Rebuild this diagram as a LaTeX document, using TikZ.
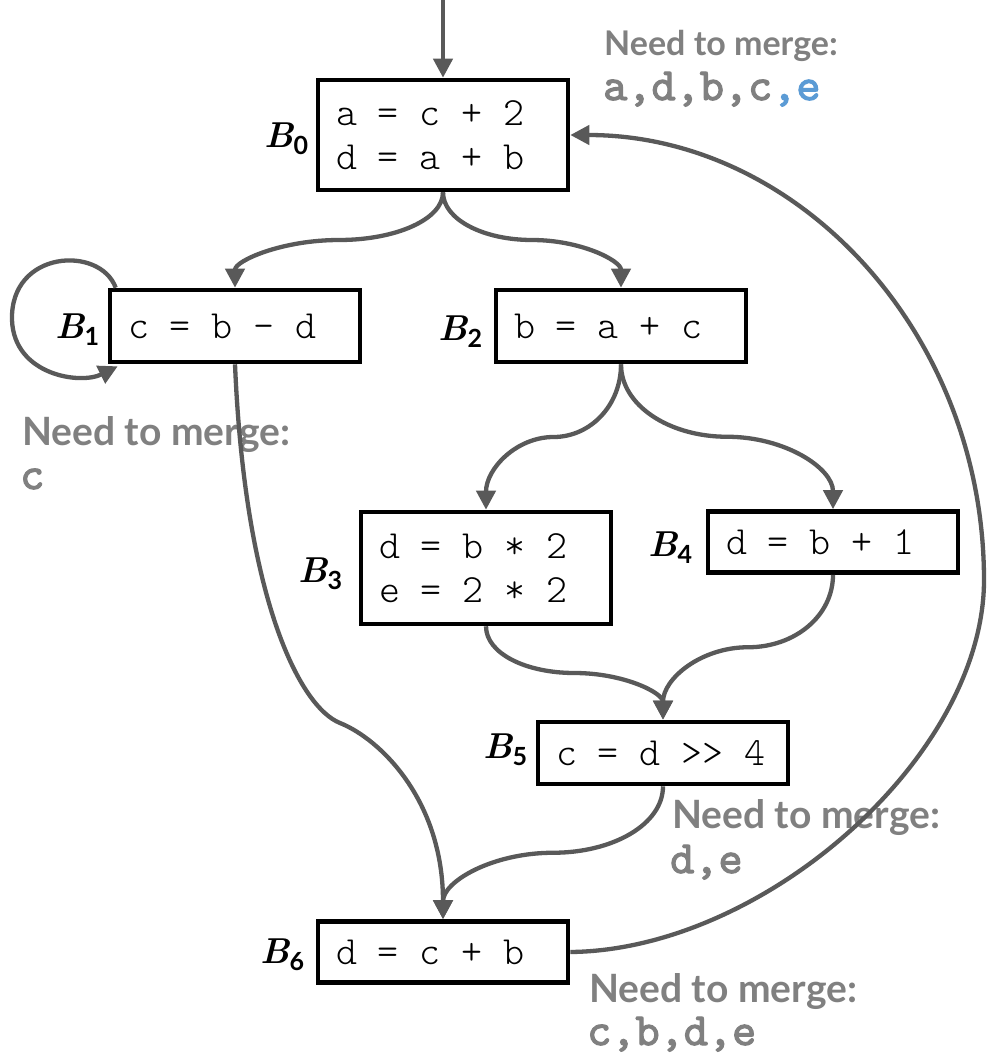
\documentclass[tikz,border=0pt]{standalone}
\usepackage{fontspec}
\setsansfont{Lato}
\newfontfamily\codefont{lmmonolt10-regular.otf}
\newfontfamily\varsfont{lmmono10-regular.otf}[FakeBold=2.5]
\usetikzlibrary{arrows.meta,calc}

\definecolor{edgegray}{HTML}{595959}
\definecolor{mergegray}{HTML}{808080}
\definecolor{mergeblue}{HTML}{5B9BD5}

\newcommand\blabel[1]{{\rmfamily\bfseries\itshape\fontsize{36}{38}\selectfont B}{\sffamily\bfseries\fontsize{25}{26}\selectfont\raisebox{-7pt}{#1}}}
\newcommand\ws{\hspace{0.525em}}

\tikzset{
  blk/.style={draw=black, line width=4.6pt, fill=white, rectangle, text width=214pt,
    align=left, inner xsep=18pt, inner ysep=0pt,
    font=\codefont\fontsize{40}{44}\selectfont},
  edge/.style={draw=edgegray, line width=4.3pt, -{Triangle[length=19pt,width=19pt]}},
  blab/.style={anchor=base west, inner sep=0pt},
  mergehead/.style={anchor=base west, inner sep=0pt, text=mergegray,
    font=\sffamily\bfseries\fontsize{39}{42}\selectfont},
  mergevars/.style={anchor=base west, inner sep=0pt, text=mergegray,
    font=\varsfont\fontsize{46}{48}\selectfont},
}

\newcommand\sconn[5]{%
  \coordinate (#3) at ($(#1)!.5!(#2)$);
  \draw[edge] (#1) .. controls ($(#1)+(0,#5)$) and ($(#3)+(#4,0)$) .. (#3)
     .. controls ($(#3)-(#4,0)$) and ($(#2)-(0,#5)$) .. (#2);}

\begin{document}
\begin{tikzpicture}[x=1pt,y=-1pt]
\fill[white] (0,0) rectangle (987,1055);
\useasboundingbox (0,0) rectangle (987,1055);

% blocks
\node[blk, minimum height=110pt] (B0) at (443,135) {a\ws=\ws c\ws+\ws 2\\d\ws=\ws a\ws+\ws b};
\node[blk, minimum height=72pt] (B1) at (235,326) {c\ws=\ws b\ws-\ws d};
\node[blk, minimum height=72pt] (B2) at (621,326) {b\ws=\ws a\ws+\ws c};
\node[blk, minimum height=112pt] (B3) at (486,568) {d\ws=\ws b\ws*\ws 2\\e\ws=\ws 2\ws*\ws 2};
\node[blk, minimum height=61pt] (B4) at (833,542) {d\ws=\ws b\ws+\ws 1};
\node[blk, minimum height=62pt] (B5) at (663,753) {c\ws=\ws d\ws>>\ws 4};
\node[blk, minimum height=61pt] (B6) at (443,952) {d\ws=\ws c\ws+\ws b};

% block labels
\node[blab] (lB0) at (264,147) {\blabel{0}};
\node[blab] (lB1) at (55,338) {\blabel{1}};
\node[blab] (lB2) at (438,340) {\blabel{2}};
\node[blab] (lB3) at (298,582) {\blabel{3}};
\node[blab] (lB4) at (648,556) {\blabel{4}};
\node[blab] (lB5) at (483,758) {\blabel{5}};
\node[blab] (lB6) at (260,963) {\blabel{6}};

% merge notes
\node[mergehead, font=\sffamily\bfseries\fontsize{34}{36}\selectfont] (n0h) at (604,55) {Need to merge:};
\node[mergevars] (n0v) at (603,100) {a,d,b,c\textcolor{mergeblue}{,e}};
\node[mergehead] (n1h) at (22,445) {Need to merge:};
\node[mergevars] (n1v) at (20,489) {c};
\node[mergehead] (n5h) at (672,828) {Need to merge:};
\node[mergevars] (n5v) at (670,873) {d,e};
\node[mergehead] (n6h) at (589,1002) {Need to merge:};
\node[mergevars] (n6v) at (587,1045) {c,b,d,e};

% connectors
\coordinate (entry) at (443,0);
\draw[edge] (entry) -- (B0.north);

\sconn{B0.south}{B1.north}{m01}{57}{27}
\sconn{B0.south}{B2.north}{m02}{-49}{27}
\sconn{B2.south}{B3.north}{m23}{37}{41}
\sconn{B2.south}{B4.north}{m24}{-58}{41}
\sconn{B3.south}{B5.north}{m35}{-49}{27}
\sconn{B4.south}{B5.north}{m45}{47}{41}
\sconn{B5.south}{B6.north}{m56}{60}{38}

% self loop on B1
\draw[edge] ($(B1.north west)+(8,0)$) .. controls (100,245) and (10,250) .. (12,320)
  .. controls (14,375) and (80,385) .. ($(B1.south west)+(10,2)$);

% B1 -> B6
\draw[edge] (B1.south) .. controls (245,600) and (300,707) .. (340,723)
  .. controls (380,739) and (443,800) .. (B6.north);

% B6 -> B0 back edge
\draw[edge] (B6.east) .. controls (765,950) and (984,755) .. (984,580)
  .. controls (984,335) and (800,135) .. (B0.east);
\end{tikzpicture}
\end{document}
